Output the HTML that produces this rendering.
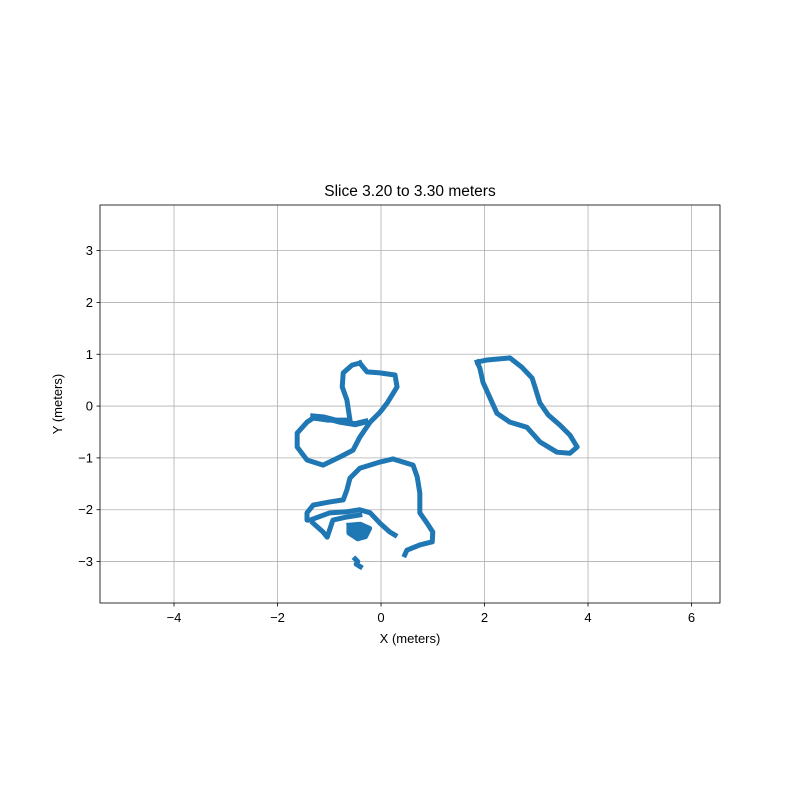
<!DOCTYPE html>
<html><head><meta charset="utf-8"><style>
body{margin:0;background:#fff}
svg{display:block;font-family:"Liberation Sans","DejaVu Sans",sans-serif}
</style></head><body>
<svg id="chart" width="800" height="800"></svg>
<script>
const xTicks=[-4,-2,0,2,4,6];
const yTicks=[-3,-2,-1,0,1,2,3];
const xDomain=[-5.43,6.55];
const yDomain=[-3.80,3.88];
const upperLoop=[[-0.41,0.83],[-0.27,0.66],[-0.02,0.64],[0.27,0.60],[0.31,0.37],[0.12,0.06],[-0.02,-0.12],[-0.21,-0.31],[-0.41,-0.60],[-0.54,-0.85],[-0.79,-0.98],[-1.12,-1.14],[-1.43,-1.04],[-1.62,-0.79],[-1.62,-0.52],[-1.43,-0.31],[-1.31,-0.23],[-1.04,-0.27],[-0.79,-0.27],[-0.60,-0.27],[-0.66,0.12],[-0.75,0.37],[-0.73,0.64],[-0.56,0.79],[-0.41,0.83]];
const upperSpur=[[-1.31,-0.2],[-1.1,-0.22],[-0.8,-0.3],[-0.5,-0.35],[-0.3,-0.3]];
const lowerOuter=[[0.46,-2.87],[0.50,-2.78],[0.75,-2.68],[0.99,-2.62],[1.0,-2.43],[0.89,-2.26],[0.75,-2.06],[0.75,-1.68],[0.70,-1.37],[0.62,-1.14],[0.23,-1.02],[-0.02,-1.08],[-0.41,-1.20],[-0.60,-1.39],[-0.66,-1.62],[-0.73,-1.81],[-0.99,-1.85],[-1.31,-1.91],[-1.43,-2.06],[-1.43,-2.2],[-1.37,-2.2],[-0.99,-2.06],[-0.66,-2.04],[-0.41,-2.0],[-0.21,-2.06],[-0.02,-2.26],[0.17,-2.43],[0.27,-2.49]];
const lowerBranch=[[-1.31,-2.26],[-1.12,-2.43],[-1.04,-2.53],[-0.93,-2.2],[-0.66,-2.14],[-0.41,-2.1]];
const lowerBlob=[[-0.62,-2.3],[-0.40,-2.28],[-0.22,-2.36],[-0.30,-2.52],[-0.45,-2.56],[-0.62,-2.45],[-0.62,-2.3]];
const smallPiece=[[-0.5,-2.95],[-0.45,-3.0],[-0.48,-3.05],[-0.40,-3.1]];
const rightLoop=[[1.86,0.85],[2.05,0.89],[2.49,0.93],[2.72,0.75],[2.92,0.54],[2.98,0.35],[3.07,0.06],[3.23,-0.17],[3.46,-0.37],[3.65,-0.56],[3.79,-0.79],[3.65,-0.91],[3.40,-0.89],[3.07,-0.69],[2.82,-0.41],[2.49,-0.31],[2.24,-0.14],[2.11,0.15],[1.97,0.46],[1.91,0.73],[1.86,0.85]];

const L=100,R=720,T=205,B=603;
const sx=v=>L+(v-xDomain[0])/(xDomain[1]-xDomain[0])*(R-L);
const sy=v=>B-(v-yDomain[0])/(yDomain[1]-yDomain[0])*(B-T);
const svg=document.getElementById('chart');
const NS='http://www.w3.org/2000/svg';
function mk(tag,attrs,parent){const e=document.createElementNS(NS,tag);for(const k in attrs)e.setAttribute(k,attrs[k]);(parent||svg).appendChild(e);return e;}

xTicks.forEach(t=>{
  const g=mk('line',{x1:sx(t),x2:sx(t),y1:T,y2:B,stroke:'#b0b0b0','stroke-width':0.8});
  
  
  mk('line',{x1:sx(t),x2:sx(t),y1:B,y2:B+3.5,stroke:'#000','stroke-width':0.8});
  const lb=mk('text',{x:sx(t),y:B+19,'text-anchor':'middle','font-size':13});
  lb.textContent=t<0?'\u2212'+Math.abs(t):t;
  
  
});
yTicks.forEach(t=>{
  const g=mk('line',{x1:L,x2:R,y1:sy(t),y2:sy(t),stroke:'#b0b0b0','stroke-width':0.8});
  
  
  mk('line',{x1:L-3.5,x2:L,y1:sy(t),y2:sy(t),stroke:'#000','stroke-width':0.8});
  const lb=mk('text',{x:L-7,y:sy(t)+4.5,'text-anchor':'end','font-size':13});
  lb.textContent=t<0?'\u2212'+Math.abs(t):t;
  
  
});
const series=[[upperLoop,5,'upper-loop','none'],[upperSpur,6,'upper-spur','none'],[lowerOuter,5,'lower-loop','none'],[lowerBranch,5,'lower-branch','none'],[lowerBlob,5,'lower-blob','#1f77b4'],[smallPiece,5,'small-piece','none'],[rightLoop,5,'right-loop','none']];
series.forEach(([pts,w,name,fill])=>{
  const p=mk('polyline',{points:pts.map(q=>sx(q[0])+','+sy(q[1])).join(' '),fill:fill,stroke:'#1f77b4','stroke-width':w,'stroke-linejoin':'round','stroke-linecap':'square'});
  
  
});
const frame=mk('rect',{x:L,y:T,width:R-L,height:B-T,fill:'none',stroke:'#000','stroke-width':0.8});


const title=mk('text',{x:(L+R)/2,y:196,'text-anchor':'middle','font-size':15.5});
title.textContent='Slice 3.20 to 3.30 meters';


const xl=mk('text',{x:(L+R)/2,y:643,'text-anchor':'middle','font-size':13});
xl.textContent='X (meters)';


const yl=mk('text',{x:62,y:(T+B)/2,'text-anchor':'middle','font-size':13,transform:'rotate(-90 62 '+((T+B)/2)+')'});
yl.textContent='Y (meters)';


</script>
</body></html>
